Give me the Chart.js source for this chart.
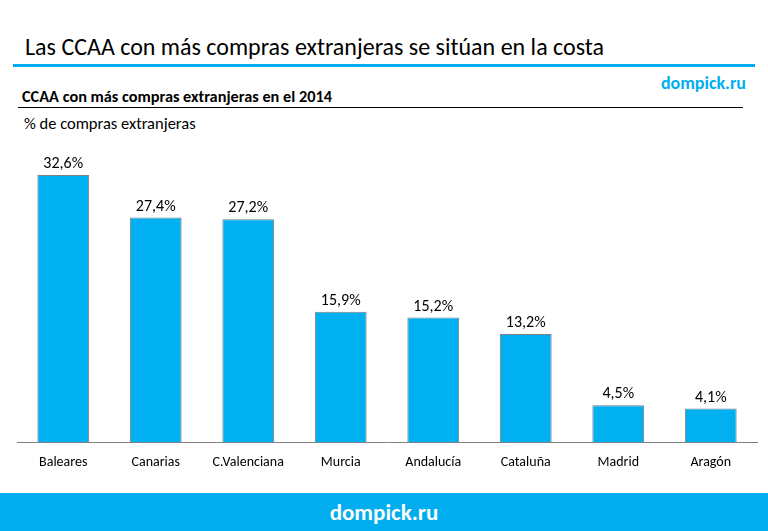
<!DOCTYPE html>
<html>
<head>
<meta charset="utf-8">
<script src="https://cdn.jsdelivr.net/npm/chart.js@4"></script>
<style>
  body { margin: 0; width: 768px; height: 531px; background: #fff; position: relative; overflow: hidden;
         font-family: Carlito, Lato, sans-serif; color: #000; }
  #titulo { position: absolute; left: 25px; top: 32px; font-size: 24px; }
  #lineaAzul { position: absolute; left: 13px; top: 64px; width: 742px; height: 3px; background: #00aeef; }
  #marca { position: absolute; right: 22px; top: 72px; font-size: 18px; font-weight: bold; color: #00aeef; }
  #subtitulo { position: absolute; left: 22px; top: 86px; font-size: 16.3px; font-weight: bold; }
  #lineaNegra { position: absolute; left: 18px; top: 107px; width: 725px; height: 1px; background: #000; }
  #unidad { position: absolute; left: 24px; top: 113px; font-size: 16.5px; }
  #grafico { position: absolute; left: 0; top: 140px; width: 768px; height: 350px; }
  #pie { position: absolute; left: 0; top: 493px; width: 768px; height: 38px; background: #00aeef;
         color: #fff; font-weight: bold; font-size: 23px; text-align: center; line-height: 38px; }
</style>
</head>
<body>
<div id="titulo">Las CCAA con más compras extranjeras se sitúan en la costa</div>
<div id="lineaAzul"></div>
<div id="marca">dompick.ru</div>
<div id="subtitulo">CCAA con más compras extranjeras en el 2014</div>
<div id="lineaNegra"></div>
<div id="unidad">% de compras extranjeras</div>
<div id="grafico"><canvas id="chartCompras"></canvas></div>
<div id="pie">dompick.ru</div>
<script>
const comunidades = ['Baleares', 'Canarias', 'C.Valenciana', 'Murcia', 'Andalucía', 'Cataluña', 'Madrid', 'Aragón'];
const porcentajes = [32.6, 27.4, 27.2, 15.9, 15.2, 13.2, 4.5, 4.1];

// Etiquetas encima de cada barra
const etiquetasBarras = {
    id: 'etiquetasBarras',
    afterDatasetsDraw(chart) {
        const ctx = chart.ctx;
        ctx.save();
        ctx.font = '16px Carlito, Lato, sans-serif';
        ctx.fillStyle = '#000';
        ctx.textAlign = 'center';
        ctx.textBaseline = 'bottom';
        chart.getDatasetMeta(0).data.forEach((bar, i) => {
            ctx.fillText(porcentajes[i].toFixed(1).replace('.', ',') + '%', bar.x, bar.y - 3);
        });
        ctx.restore();
    }
};

const ctxCompras = document.getElementById('chartCompras').getContext('2d');
new Chart(ctxCompras, {
    type: 'bar',
    data: {
        labels: comunidades,
        datasets: [{
            data: porcentajes,
            backgroundColor: '#00b0f0',
            borderColor: '#808080',
            borderWidth: 1,
            categoryPercentage: 1,
            barPercentage: 0.56
        }]
    },
    options: {
        responsive: true,
        maintainAspectRatio: false,
        animation: false,
        layout: { padding: { left: 17, right: 11, top: 5, bottom: 15 } },
        plugins: { legend: { display: false }, tooltip: { enabled: false } },
        scales: {
            x: {
                grid: { display: false },
                border: { color: '#808080', width: 1 },
                ticks: { color: '#000', padding: 4, font: { family: 'Carlito, Lato, sans-serif', size: 14 } }
            },
            y: {
                display: false,
                min: 0,
                max: 36.25
            }
        }
    },
    plugins: [etiquetasBarras]
});
</script>
</body>
</html>
